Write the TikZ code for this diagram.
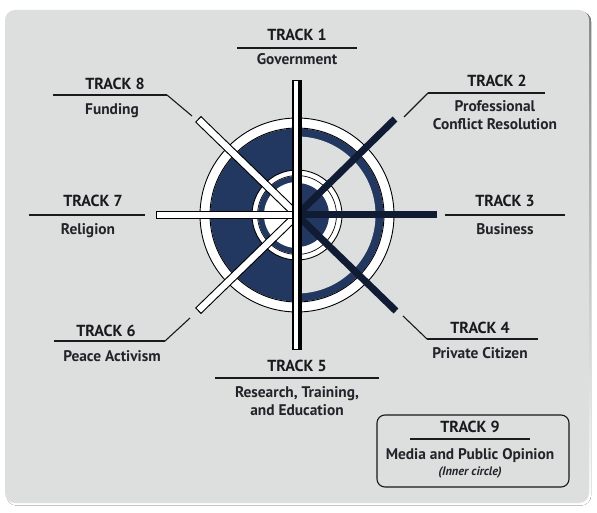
\documentclass[tikz,border=0pt]{standalone}
\usepackage{fontspec}
\setmainfont{PT Sans}
\definecolor{bggray}{RGB}{221,222,222}
\definecolor{shade}{RGB}{170,172,174}
\definecolor{navy}{RGB}{35,56,96}
\definecolor{darkspoke}{RGB}{16,27,52}
\definecolor{ink}{RGB}{25,25,30}
\definecolor{descink}{RGB}{35,35,42}
\begin{document}
\begin{tikzpicture}[x=1pt,y=-1pt,
  head/.style={font=\fontsize{16}{16}\selectfont\bfseries, text=ink, anchor=base, inner sep=0pt},
  desc/.style={font=\fontsize{15.4}{16}\selectfont\bfseries, text=descink, anchor=base, inner sep=0pt},
  uline/.style={draw=ink, line width=1.5pt},
  leader/.style={draw=ink, line width=1.1pt},
  ringline/.style={draw=black, line width=0.9pt},
  darkbar/.style={draw=darkspoke, line width=7pt},
  lightout/.style={draw=black, line width=8.5pt},
  lightin/.style={draw=white, line width=6.3pt, shorten >=1.1pt}]
\useasboundingbox (0,0) rectangle (597,513);
\fill[white] (0,0) rectangle (597,513);
\fill[shade, rounded corners=10pt] (6.5,11.5) rectangle (591,505.5);
\fill[bggray, rounded corners=10pt] (5,10) rectangle (589,503);

\coordinate (C) at (297,215);
% outer ring
\fill[white] (C) circle[radius=97];
\draw[ringline] (C) circle[radius=97];
\fill[navy] (C) ++(0,-86.5) arc[start angle=-90, end angle=90, radius=86.5] -- cycle;
\fill[bggray] (C) ++(0,-78.5) arc[start angle=-90, end angle=90, radius=78.5] -- cycle;
\fill[navy] (C) ++(0,86.5) arc[start angle=90, end angle=270, radius=86.5] -- cycle;
\draw[ringline] (C) circle[radius=87];
% inner circle
\fill[white] (C) circle[radius=45];
\draw[ringline] (C) circle[radius=45];
\fill[navy] (C) ++(0,39) arc[start angle=90, end angle=270, radius=39] -- cycle;
\fill[white] (C) ++(0,33) arc[start angle=90, end angle=270, radius=33] -- cycle;
\fill[navy] (C) ++(0,-32) arc[start angle=-90, end angle=90, radius=32] -- cycle;
\draw[ringline, line width=0.7pt] (C) circle[radius=39.5];

% spoke ends
\coordinate (e1) at (297,80);
\coordinate (e5) at (297,350);
\coordinate (e7) at (156,215);
\coordinate (e3) at (437,215);
\coordinate (e8) at (198,119);
\coordinate (e2) at (395,119);
\coordinate (e6) at (198,311);
\coordinate (e4) at (396,311);

% diagonal spokes
\draw[darkbar] (C) -- (e2);
\draw[darkbar] (C) -- (e4);
\draw[lightout] (C) -- (e8);
\draw[lightin] (C) -- (e8);
\draw[lightout] (C) -- (e6);
\draw[lightin] (C) -- (e6);
% horizontal spokes
\draw[darkbar] (C) -- (e3);
\draw[lightout] (C) -- (e7);
\draw[lightin] (C) -- (e7);
% vertical bar
\fill[black] (292.3,80) rectangle (301.7,350);
\fill[white] (293.5,81.2) rectangle (297.6,348.8);

% Track 1
\node[head] (h1) at (297,41) {TRACK 1};
\coordinate (u1a) at (237,48); \coordinate (u1b) at (357,48);
\draw[uline] (u1a) -- (u1b);
\node[desc] (d1) at (297,65) {Government};

% Track 2
\node[head] (h2) at (497,87) {TRACK 2};
\coordinate (u2a) at (428,93); \coordinate (u2b) at (545,93);
\coordinate (l2) at (404,117);
\draw[uline] (u2a) -- (u2b);
\draw[leader] (u2a) -- (l2);
\node[desc] (d2) at (495,112) {Professional};
\node[desc] (d2b) at (495,130) {Conflict Resolution};

% Track 3
\node[head] (h3) at (505,207) {TRACK 3};
\coordinate (u3a) at (445,215); \coordinate (u3b) at (565,215);
\draw[uline] (u3a) -- (u3b);
\node[desc] (d3) at (505,234) {Business};

% Track 4
\node[head] (h4) at (480,333) {TRACK 4};
\coordinate (u4a) at (427,339); \coordinate (u4b) at (538,339);
\coordinate (l4) at (403,316);
\draw[uline] (u4a) -- (u4b);
\draw[leader] (u4a) -- (l4);
\node[desc] (d4) at (480,358) {Private Citizen};

% Track 5
\node[head] (h5) at (297,371) {TRACK 5};
\coordinate (u5a) at (215,378); \coordinate (u5b) at (379,378);
\draw[uline] (u5a) -- (u5b);
\node[desc] (d5) at (297,397) {Research, Training,};
\node[desc] (d5b) at (297,415) {and Education};

% Track 6
\node[head] (h6) at (106,336) {TRACK 6};
\coordinate (u6a) at (54,341); \coordinate (u6b) at (165,341);
\coordinate (l6) at (190,318);
\draw[uline] (u6a) -- (u6b);
\draw[leader] (u6b) -- (l6);
\node[desc] (d6) at (112,361) {Peace Activism};

% Track 7
\node[head] (h7) at (93,207) {TRACK 7};
\coordinate (u7a) at (29,215); \coordinate (u7b) at (145,215);
\draw[uline] (u7a) -- (u7b);
\node[desc] (d7) at (88,234) {Religion};

% Track 8
\node[head] (h8) at (115,90) {TRACK 8};
\coordinate (u8a) at (53,95); \coordinate (u8b) at (167,95);
\coordinate (l8) at (192,116);
\draw[uline] (u8a) -- (u8b);
\draw[leader] (u8b) -- (l8);
\node[desc] (d8) at (112,115) {Funding};

% Track 9
\node[draw=ink, line width=1.1pt, rounded corners=8pt, minimum width=192pt, minimum height=72pt, inner sep=0pt] (box9) at (473,451) {};
\node[head] (h9) at (470,432) {TRACK 9};
\coordinate (u9a) at (410,439); \coordinate (u9b) at (530,439);
\draw[uline] (u9a) -- (u9b);
\node[desc] (d9) at (470,459) {Media and Public Opinion};
\node[desc, font=\fontsize{12.3}{13}\selectfont\bfseries\itshape] (d9b) at (470,475) {(Inner circle)};
\end{tikzpicture}
\end{document}
